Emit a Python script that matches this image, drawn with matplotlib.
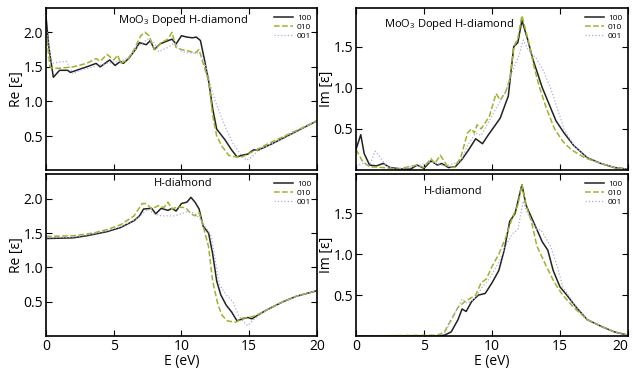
"""
Dielectric function (real and imaginary parts) of MoO3 doped H-diamond
and bare H-diamond, for the three polarisation directions.
"""
import matplotlib
matplotlib.use("Agg")
import matplotlib.pyplot as plt

plt.rcParams['font.family'] = ['Open Sans', 'DejaVu Sans']
plt.rcParams['mathtext.default'] = 'regular'

# ---- Re[eps], MoO3 doped H-diamond ----
re_doped_100_E = [0, 0.2, 0.54, 1.0, 1.6, 1.8, 3.0, 3.7, 4.0, 4.7, 5.1, 5.5, 5.7, 6.1, 6.6, 6.9,
                  7.4, 7.7, 8.0, 8.4, 8.9, 9.3, 9.6, 10.0, 10.4, 10.8, 11.1, 11.4, 11.7, 12.0,
                  12.3, 12.6, 13.2, 13.7, 14.1, 14.6, 14.9, 15.3, 15.7, 16.8, 17.8, 18.8, 20.0]
re_doped_100 = [2.23, 1.8, 1.35, 1.45, 1.45, 1.42, 1.5, 1.55, 1.5, 1.6, 1.52, 1.58, 1.55, 1.62,
                1.75, 1.85, 1.82, 1.88, 1.75, 1.83, 1.87, 1.90, 1.83, 1.95, 1.93, 1.92, 1.93,
                1.88, 1.6, 1.3, 0.9, 0.6, 0.45, 0.3, 0.2, 0.23, 0.24, 0.3, 0.3, 0.4, 0.5, 0.6, 0.72]
re_doped_010_E = [0, 0.3, 0.5, 1.0, 2.0, 3.0, 3.7, 4.0, 4.5, 5.0, 5.3, 5.5, 6.0, 6.5, 7.0, 7.3,
                  7.6, 8.0, 8.5, 9.0, 9.3, 9.6, 10.0, 10.5, 11.0, 11.3, 11.6, 12.0, 12.3, 12.6,
                  13.0, 13.5, 14.0, 14.5, 15.0, 15.5, 16.5, 17.6, 18.7, 20.0]
re_doped_010 = [2.0, 1.5, 1.48, 1.48, 1.5, 1.55, 1.62, 1.58, 1.68, 1.6, 1.67, 1.55, 1.6, 1.75,
                1.95, 2.0, 1.95, 1.75, 1.85, 1.9, 2.0, 1.78, 1.75, 1.73, 1.70, 1.75, 1.55, 1.3,
                0.8, 0.5, 0.35, 0.22, 0.2, 0.2, 0.25, 0.3, 0.4, 0.5, 0.6, 0.72]
re_doped_001_E = [0, 0.4, 1.0, 1.5, 2.0, 2.5, 3.5, 4.5, 5.5, 6.2, 6.8, 7.5, 8.0, 8.3, 9.0, 9.5,
                  10.0, 10.5, 11.0, 11.4, 11.8, 12.2, 12.5, 12.9, 13.3, 13.8, 14.3, 14.8, 15.2,
                  15.7, 16.8, 17.8, 18.8, 20.0]
re_doped_001 = [2.1, 1.55, 1.57, 1.58, 1.4, 1.45, 1.5, 1.55, 1.58, 1.65, 1.8, 1.9, 1.85, 1.72,
                1.78, 1.85, 1.72, 1.7, 1.7, 1.7, 1.5, 1.2, 1.0, 0.8, 0.6, 0.4, 0.25, 0.15, 0.2,
                0.3, 0.4, 0.5, 0.6, 0.72]

# ---- Re[eps], H-diamond ----
re_hd_100_E = [0, 2.0, 3.0, 4.5, 5.5, 6.5, 6.9, 7.2, 7.8, 8.1, 8.5, 9.0, 9.3, 9.6, 10.0, 10.4,
               10.7, 11.0, 11.3, 11.6, 12.0, 12.3, 12.6, 12.9, 13.3, 13.7, 14.1, 14.5, 14.9,
               15.2, 15.6, 16.3, 17.5, 18.5, 20.0]
re_hd_100 = [1.42, 1.43, 1.46, 1.52, 1.58, 1.68, 1.75, 1.85, 1.86, 1.78, 1.86, 1.83, 1.86, 1.82,
             1.93, 1.95, 2.02, 1.95, 1.85, 1.6, 1.5, 1.2, 0.8, 0.6, 0.45, 0.35, 0.22, 0.25, 0.27,
             0.25, 0.3, 0.38, 0.5, 0.58, 0.66]
re_hd_010_E = [0, 2.0, 3.5, 4.5, 5.5, 6.5, 7.1, 7.4, 7.8, 8.3, 8.7, 9.0, 9.3, 9.7, 10.3, 10.7,
               11.0, 11.3, 11.6, 12.0, 12.3, 12.7, 13.0, 13.4, 14.0, 14.5, 15.0, 15.5, 16.5,
               17.5, 18.5, 20.0]
re_hd_010 = [1.45, 1.46, 1.5, 1.55, 1.62, 1.75, 1.93, 1.93, 1.85, 1.9, 1.87, 1.95, 1.85, 1.88,
             1.87, 1.78, 1.75, 1.8, 1.6, 1.3, 0.8, 0.45, 0.3, 0.22, 0.2, 0.26, 0.27, 0.3, 0.4,
             0.5, 0.58, 0.66]
re_hd_001_E = [0, 2.0, 3.0, 4.5, 5.5, 6.8, 7.5, 8.0, 8.5, 9.5, 10.0, 10.5, 11.0, 11.4, 11.9,
               12.2, 12.5, 12.8, 13.3, 13.8, 14.2, 14.6, 14.9, 15.2, 15.7, 16.5, 17.5, 18.5, 20.0]
re_hd_001 = [1.43, 1.44, 1.47, 1.53, 1.59, 1.72, 1.85, 1.78, 1.75, 1.75, 1.78, 1.82, 1.78, 1.7,
             1.55, 1.45, 1.1, 0.75, 0.6, 0.5, 0.3, 0.2, 0.15, 0.22, 0.3, 0.4, 0.5, 0.58, 0.66]

# ---- Im[eps], MoO3 doped H-diamond ----
im_doped_100_E = [0, 0.35, 0.6, 1.0, 1.5, 2.0, 2.5, 3.5, 4.0, 4.5, 5.0, 5.5, 6.0, 6.3, 6.8, 7.3,
                  7.8, 8.3, 8.8, 9.3, 9.7, 10.6, 11.2, 11.6, 11.9, 12.2, 12.6, 13.0, 13.4, 13.7,
                  14.2, 14.7, 15.3, 16.0, 17.0, 18.0, 19.0, 20.0]
im_doped_100 = [0.25, 0.43, 0.2, 0.06, 0.05, 0.08, 0.03, 0.01, 0.01, 0.06, 0.02, 0.11, 0.06,
                0.08, 0.03, 0.04, 0.13, 0.25, 0.38, 0.32, 0.42, 0.63, 0.9, 1.5, 1.55, 1.82, 1.6,
                1.35, 1.15, 1.0, 0.8, 0.6, 0.45, 0.3, 0.15, 0.08, 0.03, 0.01]
im_doped_010_E = [0, 0.5, 1.0, 2.0, 3.0, 4.5, 5.0, 5.5, 5.8, 6.2, 6.7, 7.2, 7.7, 8.2, 8.5, 8.7,
                  8.9, 9.2, 9.8, 10.3, 10.6, 11.0, 11.3, 11.6, 11.9, 12.2, 12.7, 13.1, 13.5,
                  14.0, 14.6, 15.2, 15.8, 16.8, 18.0, 19.0, 20.0]
im_doped_010 = [0.25, 0.1, 0.04, 0.03, 0.01, 0.06, 0.03, 0.14, 0.08, 0.18, 0.05, 0.03, 0.15,
                0.45, 0.5, 0.45, 0.55, 0.5, 0.65, 0.93, 0.85, 0.95, 1.1, 1.5, 1.6, 1.88, 1.55,
                1.25, 1.0, 0.75, 0.5, 0.35, 0.25, 0.15, 0.08, 0.03, 0.01]
im_doped_001_E = [0, 0.5, 1.0, 1.4, 1.8, 2.2, 3.0, 4.5, 5.5, 6.5, 7.7, 8.2, 8.8, 9.2, 9.8,
                  10.3, 11.0, 11.5, 12.0, 12.3, 12.7, 13.3, 13.8, 14.3, 14.8, 15.3, 16.0, 17.0,
                  18.0, 19.0, 20.0]
im_doped_001 = [0.05, 0.08, 0.05, 0.23, 0.15, 0.05, 0.01, 0.05, 0.1, 0.05, 0.1, 0.3, 0.45,
                0.42, 0.6, 0.75, 0.95, 1.2, 1.4, 1.58, 1.45, 1.35, 1.2, 1.0, 0.75, 0.5, 0.3,
                0.15, 0.08, 0.03, 0.01]

# ---- Im[eps], H-diamond ----
im_hd_100_E = [0, 6.0, 6.5, 7.0, 7.5, 7.8, 8.1, 8.5, 9.0, 9.5, 10.0, 10.5, 10.9, 11.3, 11.7,
               12.2, 12.5, 12.9, 13.3, 13.7, 14.1, 14.5, 15.0, 15.5, 16.2, 17.0, 18.0, 19.0, 20.0]
im_hd_100 = [0.0, 0.0, 0.01, 0.05, 0.2, 0.33, 0.3, 0.42, 0.5, 0.52, 0.65, 0.8, 1.05, 1.4, 1.5,
             1.85, 1.6, 1.45, 1.3, 1.15, 1.05, 0.8, 0.6, 0.5, 0.35, 0.2, 0.12, 0.05, 0.01]
im_hd_010_E = [0, 6.0, 6.5, 7.0, 7.5, 8.0, 8.8, 9.2, 9.6, 10.0, 10.5, 11.0, 11.5, 11.9, 12.2,
               12.5, 12.9, 13.3, 14.0, 14.6, 15.2, 16.0, 17.0, 18.0, 19.0, 20.0]
im_hd_010 = [0.0, 0.01, 0.05, 0.2, 0.35, 0.42, 0.5, 0.65, 0.7, 0.85, 1.0, 1.2, 1.45, 1.6, 1.85,
             1.6, 1.4, 1.1, 0.85, 0.65, 0.5, 0.35, 0.2, 0.12, 0.05, 0.01]
im_hd_001_E = [0, 6.0, 6.5, 7.2, 7.8, 8.2, 8.7, 9.3, 9.8, 10.5, 11.0, 11.5, 11.9, 12.3, 12.6,
               13.3, 13.6, 14.3, 14.8, 15.2, 16.0, 17.0, 18.0, 19.0, 20.0]
im_hd_001 = [0.0, 0.0, 0.03, 0.25, 0.45, 0.4, 0.45, 0.6, 0.7, 0.9, 1.1, 1.25, 1.3, 1.65, 1.5,
             1.3, 1.3, 1.1, 0.85, 0.6, 0.4, 0.2, 0.12, 0.05, 0.01]

labels = ['100', '010', '001']
colors = ['#222222', '#9ab52c', '#b4a6e6']
styles = ['-', '--', ':']
widths = [1.1, 1.1, 0.9]

fig = plt.figure(figsize=(6.33, 3.73), dpi=100)

def make_panel(rect, series, ylabel, title, title_xy, ylim, yticks, bottom):
    ax = fig.add_axes(rect)
    for (E, v), lab, c, ls, lw in zip(series, labels, colors, styles, widths):
        ax.plot(E, v, ls, color=c, lw=lw, label=lab)
    ax.set_xlim(0, 20)
    ax.set_ylim(*ylim)
    ax.set_xticks([0, 5, 10, 15, 20])
    ax.set_yticks(yticks)
    ax.tick_params(direction='in', top=True, right=True, labelsize=10, length=4, width=0.8,
                   pad=2)
    if bottom:
        ax.set_xlabel('E (eV)', fontsize=10, labelpad=0)
    else:
        ax.tick_params(labelbottom=False)
    ax.set_ylabel(ylabel, fontsize=10, labelpad=0)
    for s in ax.spines.values():
        s.set_linewidth(1.2)
    ax.text(title_xy[0], title_xy[1], title, transform=ax.transAxes, ha='center', va='center',
            fontsize=8)
    ax.legend(loc='upper right', frameon=False, fontsize=6, handlelength=2.3,
              labelspacing=0.15, handletextpad=0.5, borderaxespad=0.3)
    return ax

make_panel([0.0727, 0.5442, 0.428, 0.4343],
           [(re_doped_100_E, re_doped_100), (re_doped_010_E, re_doped_010),
            (re_doped_001_E, re_doped_001)],
           'Re [ε]', 'MoO$_3$ Doped H-diamond', (0.505, 0.926), (0.01, 2.35),
           [0.5, 1.0, 1.5, 2.0], False)
make_panel([0.0727, 0.0992, 0.428, 0.4343],
           [(re_hd_100_E, re_hd_100), (re_hd_010_E, re_hd_010), (re_hd_001_E, re_hd_001)],
           'Re [ε]', 'H-diamond', (0.505, 0.94), (0.0, 2.36), [0.5, 1.0, 1.5, 2.0], True)
make_panel([0.5624, 0.5442, 0.4297, 0.4343],
           [(im_doped_100_E, im_doped_100), (im_doped_010_E, im_doped_010),
            (im_doped_001_E, im_doped_001)],
           'Im [ε]', 'MoO$_3$ Doped H-diamond', (0.34, 0.90), (0.0, 1.97),
           [0.5, 1.0, 1.5], False)
ax_br = make_panel([0.5624, 0.0992, 0.4297, 0.4343],
                   [(im_hd_100_E, im_hd_100), (im_hd_010_E, im_hd_010), (im_hd_001_E, im_hd_001)],
                   'Im [ε]', 'H-diamond', (0.357, 0.89), (0.0, 1.98), [0.5, 1.0, 1.5], True)
# keep the last "20" inside the figure
ax_br.get_xticklabels()[-1].set_horizontalalignment('right')

fig.savefig('out.png', dpi=100)
